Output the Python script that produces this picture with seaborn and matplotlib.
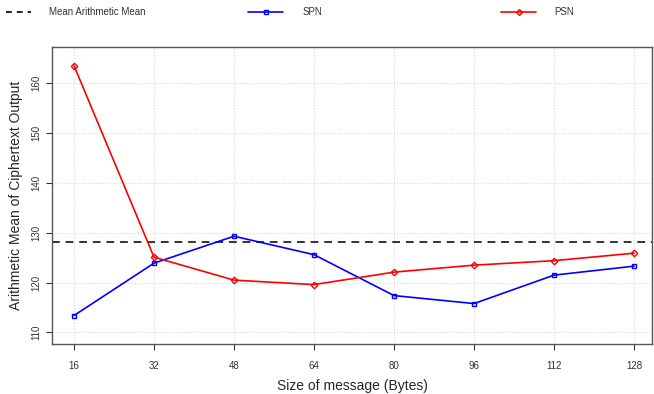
import matplotlib
matplotlib.use("Agg")
import matplotlib.pyplot as plt
import seaborn as sns
import pandas as pd
from matplotlib.lines import Line2D

sizes = [16, 32, 48, 64, 80, 96, 112, 128]
spn = [113.4, 123.9, 129.3, 125.6, 117.4, 115.8, 121.5, 123.3]
psn = [163.5, 125.1, 120.5, 119.6, 122.1, 123.5, 124.4, 125.9]
mean_line = 128.1
yticks = [110, 120, 130, 140, 150, 160]

sns.set_theme(style="white")
plt.rcParams['font.family'] = ['Liberation Sans', 'DejaVu Sans']

fig = plt.figure(figsize=(6.54, 3.94), dpi=100)
ax = fig.add_axes([0.0795, 0.127, 0.9175, 0.7545])

df_spn = pd.DataFrame({"size": sizes, "value": spn})
df_psn = pd.DataFrame({"size": sizes, "value": psn})

ax.axhline(mean_line, color="#333333", ls=(0, (4, 3)), lw=1.4, zorder=1)
sns.lineplot(data=df_spn, x="size", y="value", ax=ax, color="blue", lw=1.2,
             marker="s", markersize=3.3, markerfacecolor="none",
             markeredgecolor="blue", markeredgewidth=1.0, zorder=3)
sns.lineplot(data=df_psn, x="size", y="value", ax=ax, color="red", lw=1.2,
             marker="D", markersize=3.3, markerfacecolor="none",
             markeredgecolor="red", markeredgewidth=1.0, zorder=3)

ax.set_xlim(11.6, 131.6)
ax.set_ylim(107.7, 167.3)
ax.set_xticks(sizes)
ax.set_yticks(yticks)
ax.grid(True, color="#d8d8d8", ls=":", lw=0.8)
ax.tick_params(axis="both", which="both", direction="out", length=4, width=0.8,
               labelsize=7, colors="#333333", bottom=True, left=True)
ax.tick_params(axis="x", pad=8)
for lbl in ax.get_yticklabels():
    lbl.set_rotation(90)
    lbl.set_va("center")
for sp in ax.spines.values():
    sp.set_color("#555555")
    sp.set_linewidth(1.0)
ax.set_xlabel("Size of message (Bytes)", fontsize=10, labelpad=6)
ax.set_ylabel("Arithmetic Mean of Ciphertext Output", fontsize=10, labelpad=6)

h1 = Line2D([], [], color="black", ls=(0, (3.5, 3)), lw=1.2)
h2 = Line2D([], [], color="blue", lw=1.2, marker="s", markersize=3,
            markerfacecolor="none", markeredgecolor="blue")
h3 = Line2D([], [], color="red", lw=1.2, marker="D", markersize=3,
            markerfacecolor="none", markeredgecolor="red")
specs = [(h1, "Mean Arithmetic Mean", 6, 2.57, 1.85),
         (h2, "SPN", 248, 3.6, 2.0),
         (h3, "PSN", 501, 3.6, 1.9)]
for h, lab, px, hl, tp in specs:
    leg = fig.legend([h], [lab], loc="center left", bbox_to_anchor=(px / 654, 1 - 12 / 394),
                     frameon=False, fontsize=7, handlelength=hl, handletextpad=tp,
                     borderpad=0, borderaxespad=0)
    for t in leg.get_texts():
        t.set_color("#333333")

fig.savefig("out.png", dpi=100)
